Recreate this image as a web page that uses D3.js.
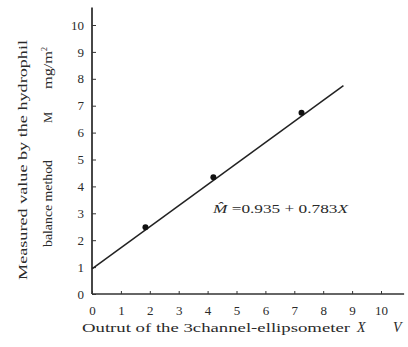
<!DOCTYPE html>
<html>
<head>
<meta charset="utf-8">
<script src="https://cdn.jsdelivr.net/npm/d3@7"></script>
<style>
  body { margin: 0; background: #fff; }
  text { font-family: "Liberation Serif", "DejaVu Serif", serif; fill: #2a2a2a; }
</style>
</head>
<body>
<script>
// measured points (X = ellipsometer output, M = hydrophil balance)
const pointX = [1.85, 4.2, 7.25];
const pointM = [2.48, 4.34, 6.74];
// regression M = a + b X
const fitA = 0.935;
const fitB = 0.783;
const fitRange = [0, 8.7];
const tickValues = [0, 1, 2, 3, 4, 5, 6, 7, 8, 9, 10];

const W = 408, H = 347;
const svg = d3.select('body').append('svg')
    .attr('width', W)
    .attr('height', H);

const x = d3.scaleLinear().domain([0, 10]).range([92, 381]);
const y = d3.scaleLinear().domain([0, 10]).range([294, 25]);
const ink = '#333';

// axes lines (run a bit past 10)
svg.append('line')
    .attr('x1', x(0)).attr('x2', x(10.8))
    .attr('y1', y(0)).attr('y2', y(0))
    .attr('stroke', ink).attr('stroke-width', 1.6);
svg.append('line')
    .attr('x1', x(0)).attr('x2', x(0))
    .attr('y1', y(0)).attr('y2', y(10.65))
    .attr('stroke', ink).attr('stroke-width', 1.8);

const xAxis = svg.append('g')
    .attr('transform', 'translate(0,' + y(0) + ')')
    .call(d3.axisBottom(x).tickValues(tickValues).tickSize(-3).tickPadding(12));
const yAxis = svg.append('g')
    .attr('transform', 'translate(' + x(0) + ',0)')
    .call(d3.axisLeft(y).tickValues(tickValues).tickSize(-4).tickPadding(8));

[xAxis, yAxis].forEach(a => {
  a.select('.domain').remove();
  a.selectAll('line').attr('stroke', ink);
  a.selectAll('text')
      .style('font-size', '13px')
      .style('font-family', '"Liberation Serif", serif')
      .attr('fill', '#2a2a2a');
});

// fitted line
svg.append('line')
    .attr('x1', x(fitRange[0])).attr('y1', y(fitA + fitB * fitRange[0]))
    .attr('x2', x(fitRange[1])).attr('y2', y(fitA + fitB * fitRange[1]))
    .attr('stroke', '#222').attr('stroke-width', 1.5);

svg.selectAll('.pt')
    .data(pointX.map((d, i) => ({x: d, m: pointM[i]})))
    .enter().append('circle')
    .attr('class', 'pt')
    .attr('cx', d => x(d.x))
    .attr('cy', d => y(d.m))
    .attr('r', 3)
    .attr('fill', '#111');

// equation
const eq = svg.append('text')
    .attr('x', 213).attr('y', 213)
    .style('font-size', '12.5px')
    .attr('textLength', 135)
    .attr('lengthAdjust', 'spacingAndGlyphs');
eq.append('tspan').style('font-style', 'italic').text('M\u0302');
eq.append('tspan').text(' =0.935 + 0.783');
eq.append('tspan').style('font-style', 'italic').text('X');

// x title
svg.append('text')
    .attr('x', 82).attr('y', 332)
    .style('font-size', '12.5px')
    .attr('textLength', 268)
    .attr('lengthAdjust', 'spacingAndGlyphs')
    .text('Outrut  of  the  3channel-ellipsometer');
svg.append('text')
    .attr('x', 357).attr('y', 332)
    .style('font-size', '14px')
    .style('font-style', 'italic')
    .text('X');
svg.append('text')
    .attr('x', 393).attr('y', 332)
    .style('font-size', '14px')
    .style('font-style', 'italic')
    .text('V');

// y title (two rotated lines)
svg.append('text')
    .attr('transform', 'translate(27,280) rotate(-90)')
    .style('font-size', '12.5px')
    .attr('textLength', 240)
    .attr('lengthAdjust', 'spacingAndGlyphs')
    .text('Measured value by the hydrophil');

const yt2 = svg.append('text')
    .attr('transform', 'translate(52,247) rotate(-90)')
    .style('font-size', '12.5px');
yt2.append('tspan')
    .attr('textLength', 87)
    .attr('lengthAdjust', 'spacingAndGlyphs')
    .text('balance method');
yt2.append('tspan').attr('x', 124).text('M');
yt2.append('tspan').attr('x', 158)
    .attr('textLength', 38)
    .attr('lengthAdjust', 'spacingAndGlyphs')
    .text('mg/m');
yt2.append('tspan').attr('dy', -5).style('font-size', '8px').text('2');
</script>
</body>
</html>
